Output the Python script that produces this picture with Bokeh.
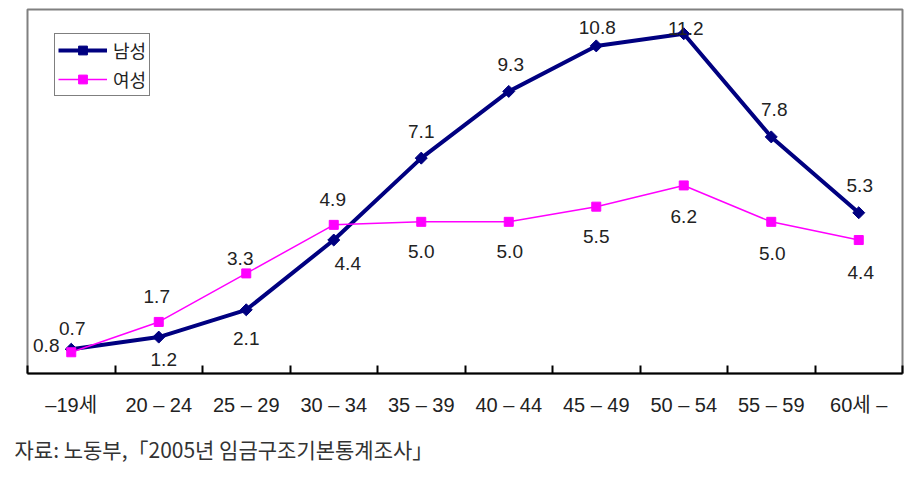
import numpy as np
from bokeh.plotting import figure
from bokeh.models import ColumnDataSource, FixedTicker, Range1d, Title
from bokeh.core.properties import value
from bokeh.embed import file_html
from bokeh.resources import INLINE

categories = ["–19세", "20 – 24", "25 – 29", "30 – 34", "35 – 39",
              "40 – 44", "45 – 49", "50 – 54", "55 – 59", "60세 –"]
male = [0.8, 1.2, 2.1, 4.4, 7.1, 9.3, 10.8, 11.2, 7.8, 5.3]
female = [0.7, 1.7, 3.3, 4.9, 5.0, 5.0, 5.5, 6.2, 5.0, 4.4]
series_names = ["남성", "여성"]
source_note = "자료: 노동부,「2005년 임금구조기본통계조사」"

# label placement (pixel offsets, style only)
male_dx = [-25, 5, 0, 14, 0, 2, 1, 2, 3, 1]
male_dy = [-4, 22, 29, 23, -27, -27, -18, -5, -27, -27]
female_dx = [1, -2, -6, -1, 0, 1, 0, 0, 1, 2]
female_dy = [-24, -25, -15, -25, 30, 30, 30, 31, 32, 32]

FONT = "Liberation Sans, Noto Sans CJK KR"
centers = [i + 0.5 for i in range(len(categories))]

p = figure(width=922, height=485, output_backend="svg", toolbar_location=None,
           x_range=Range1d(0, len(categories)), y_range=Range1d(0, 12),
           y_axis_type=None,
           min_border_left=27, min_border_right=20, min_border_top=9,
           min_border_bottom=112)
p.grid.visible = False
p.outline_line_color = "#808080"
p.outline_line_width = 2
p.background_fill_color = "white"
p.border_fill_color = "white"

ax = p.xaxis[0]
ax.ticker = FixedTicker(ticks=centers, minor_ticks=list(range(len(categories) + 1)))
ax.major_label_overrides = {c: lab for c, lab in zip(centers, categories)}
ax.major_tick_in = 0
ax.major_tick_out = 0
ax.minor_tick_in = 8
ax.minor_tick_out = 0
ax.minor_tick_line_color = "black"
ax.minor_tick_line_width = 2
ax.axis_line_color = "black"
ax.axis_line_width = 2
ax.major_label_standoff = 20
ax.major_label_text_font = FONT
ax.major_label_text_font_size = "20px"
ax.major_label_text_color = "#222222"

src_m = ColumnDataSource(dict(x=centers, y=male, t=[f"{v:.1f}" for v in male],
                              dx=male_dx, dy=male_dy))
src_f = ColumnDataSource(dict(x=centers, y=female, t=[f"{v:.1f}" for v in female],
                              dx=female_dx, dy=female_dy))

p.line("x", "y", source=src_m, line_color="#000080", line_width=4,
       legend_label=series_names[0])
p.scatter("x", "y", source=src_m, marker="square", angle=np.pi / 4, size=8.5,
          fill_color="#000080", line_color="#000080", legend_label=series_names[0])
p.line("x", "y", source=src_f, line_color="#FF00FF", line_width=1.5,
       legend_label=series_names[1])
p.scatter("x", "y", source=src_f, marker="square", size=9,
          fill_color="#FF00FF", line_color="#FF00FF", legend_label=series_names[1])

for src in (src_m, src_f):
    p.text("x", "y", text="t", source=src, x_offset="dx", y_offset="dy",
           text_align="center", text_baseline="middle",
           text_font=value(FONT), text_font_size="19px", text_color="#222222")

lg = p.legend[0]
lg.location = (27, 277)
lg.border_line_color = "black"
lg.border_line_width = 1
lg.background_fill_alpha = 1
lg.padding = 3
lg.spacing = 3
lg.margin = 0
lg.glyph_width = 49
lg.glyph_height = 22
lg.label_standoff = 6
lg.label_text_font = "Noto Sans CJK KR"
lg.label_text_font_size = "18px"
lg.label_text_color = "#222222"

p.add_layout(Title(text=source_note, align="left", offset=-13, standoff=27,
                   text_font="Noto Sans CJK KR", text_font_size="21px",
                   text_font_style="normal", text_color="#333333"), "below")

open("out.html", "w").write(file_html(p, INLINE))
